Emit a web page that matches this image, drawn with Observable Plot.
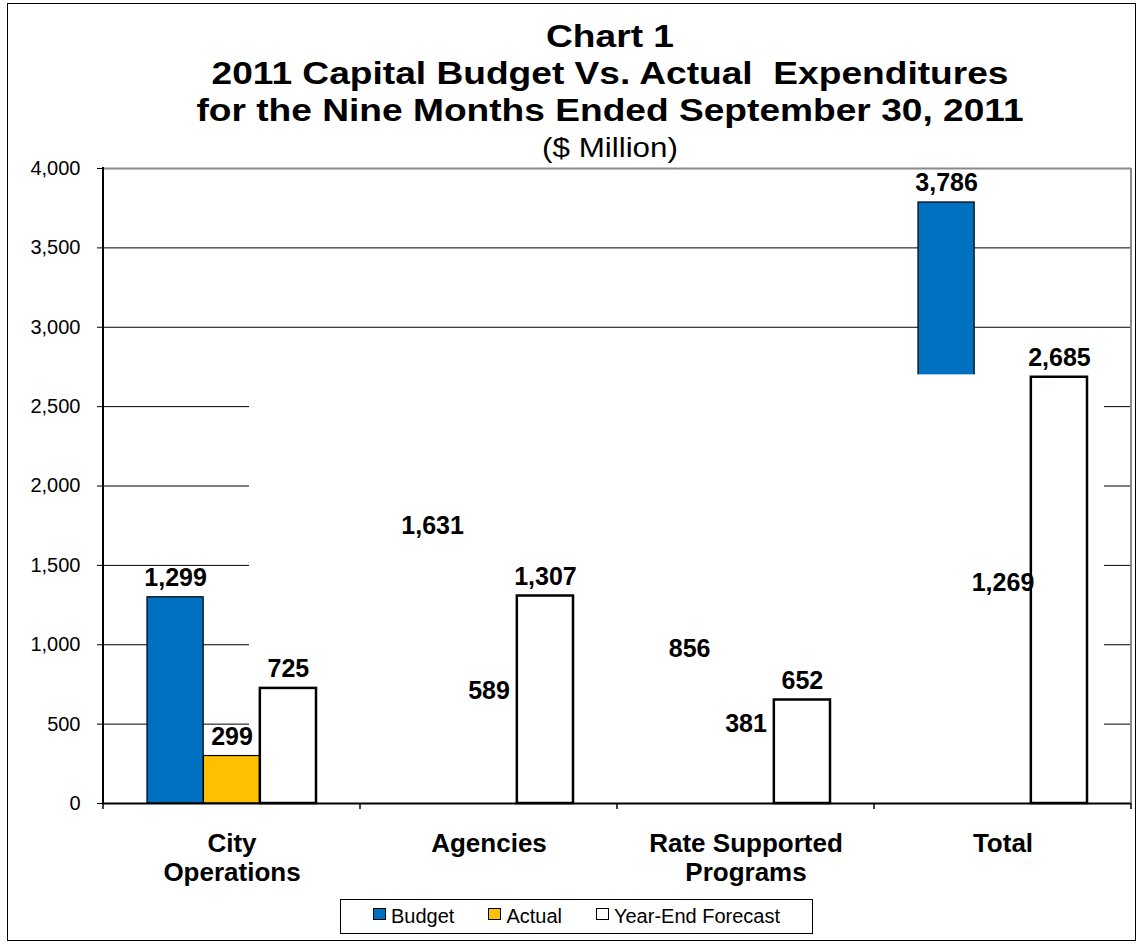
<!DOCTYPE html>
<html>
<head>
<meta charset="utf-8">
<script src="https://cdn.jsdelivr.net/npm/d3@7"></script>
<script src="https://cdn.jsdelivr.net/npm/@observablehq/plot@0.6"></script>
<style>
  html, body { margin: 0; padding: 0; background: white; }
  body { width: 1139px; height: 946px; position: relative; overflow: hidden; font-family: "Liberation Sans", Arial, sans-serif; color: black; }
  #border { position: absolute; left: 7px; top: 3px; width: 1129px; height: 938px; border: 1px solid black; box-sizing: border-box; }
  #title { position: absolute; left: 110px; width: 1000px; top: 18px; text-align: center; white-space: pre; z-index: 2; }
  #title .t { font-weight: bold; font-size: 32px; line-height: 37px; transform: scaleX(1.16); }
  #title .s { font-size: 28px; line-height: 37px; transform: scaleX(1.12); }
  #chart { position: absolute; left: 0; top: 150px; z-index: 1; }
  #chart svg { background: transparent !important; }
  #legend { position: absolute; left: 340px; top: 899px; width: 473px; height: 35px; border: 1px solid black; box-sizing: border-box; display: flex; align-items: center; justify-content: center; gap: 34px; font-size: 20px; background: white; z-index: 2; }
  #legend .item { display: flex; align-items: center; }
  #legend .sw { width: 11px; height: 10px; border: 1px solid black; margin-right: 5px; margin-top: -5px; }
</style>
</head>
<body>
<div id="border"></div>
<div id="title"></div>
<div id="chart"></div>
<div id="legend"></div>
<script>
// ---- data ----
const categories = ["City Operations", "Agencies", "Rate Supported Programs", "Total"];
const categoryLabels = ["City\nOperations", "Agencies", "Rate Supported\nPrograms", "Total"];
const seriesNames = ["Budget", "Actual", "Year-End Forecast"];
const seriesColors = ["#0070C0", "#FFC000", "#FFFFFF"];
const budget = [1299, 1631, 856, 3786];
const actual = [299, 589, 381, 1269];
const forecast = [725, 1307, 652, 2685];
const yTicks = [0, 500, 1000, 1500, 2000, 2500, 3000, 3500, 4000];
const blankedBelow = 2700; // level below which the source picture is blank between the first and last group
const titleLines = ["Chart 1", "2011 Capital Budget Vs. Actual  Expenditures", "for the Nine Months Ended September 30, 2011"];
const subtitle = "($ Million)";

// ---- title ----
const titleEl = document.getElementById("title");
titleLines.forEach(t => { const d = document.createElement("div"); d.className = "t"; d.textContent = t; titleEl.appendChild(d); });
{ const d = document.createElement("div"); d.className = "s"; d.textContent = subtitle; titleEl.appendChild(d); }

// ---- rows ----
const rows = categories.flatMap((c, i) => [
  {category: c, series: seriesNames[0], value: budget[i]},
  {category: c, series: seriesNames[1], value: actual[i]},
  {category: c, series: seriesNames[2], value: forecast[i]}
]);

// ---- layout ----
const W = 1139, H = 750, mL = 102, mR = 8, mT = 18, mB = 97;
const band = (W - mL - mR) / categories.length;
const outer = 44;
const barW = (band - 2 * outer) / 3;
const insets = seriesNames.map((s, k) => ({insetLeft: outer + k * barW, insetRight: band - outer - (k + 1) * barW}));
const offsets = seriesNames.map((s, k) => (outer + (k + 0.5) * barW) - band / 2);
const color = s => seriesColors[seriesNames.indexOf(s)];
const fmt = d3.format(",");
const first = categories[0];

function bars(data, k, extra) {
  return Plot.barY(data, {
    x: "category", y: "value", fill: d => color(d.series),
    stroke: "black", strokeWidth: k === 2 ? 2.5 : 1.2,
    ...insets[k], ...extra
  });
}
const bySeries = k => rows.filter(d => d.series === seriesNames[k]);

const marks = [
  Plot.ruleY(yTicks.filter(t => t > 0 && t < 4000), {stroke: "black", strokeWidth: 1}),
  Plot.ruleY([4000], {stroke: "#8a8a8a", strokeWidth: 2}),
  // budget & actual bars of the groups that lie in the blank area
  bars(bySeries(0).filter(d => d.category !== first), 0),
  bars(bySeries(1).filter(d => d.category !== first), 1),
  // blank area
  Plot.barY([first], {x: d => d, y: () => blankedBelow, fill: "white", insetLeft: 146, insetRight: -1}),
  Plot.barY(categories.slice(1, 3), {x: d => d, y: () => blankedBelow, fill: "white", insetLeft: -1, insetRight: -1}),
  Plot.barY([categories[3]], {x: d => d, y: () => blankedBelow, fill: "white", insetLeft: -1, insetRight: 27}),
  // first group's bars
  bars(bySeries(0).filter(d => d.category === first), 0),
  bars(bySeries(1).filter(d => d.category === first), 1),
  // forecast bars
  bars(bySeries(2), 2),
  Plot.ruleY([0], {stroke: "black", strokeWidth: 2}),
  Plot.axisY({ticks: yTicks, tickFormat: fmt, tickSize: 5, tickPadding: 17, fontSize: 20, stroke: "black", label: null}),
  // value labels
  ...seriesNames.map((s, k) => Plot.text(bySeries(k), {
    x: "category", y: "value", text: d => fmt(d.value), dx: offsets[k], dy: -11,
    lineAnchor: "bottom", fontSize: 25, fontWeight: "bold", fill: "black"
  })),
  // category labels
  Plot.text(categories, {
    x: d => d, text: (d, i) => categoryLabels[i], frameAnchor: "bottom", lineAnchor: "top",
    dy: 28, fontSize: 26, fontWeight: "bold", lineHeight: 1.12, fill: "black"
  })
];

const plot = Plot.plot({
  width: W, height: H,
  marginLeft: mL, marginRight: mR, marginTop: mT, marginBottom: mB,
  style: {fontFamily: "'Liberation Sans', Arial, sans-serif", fontSize: "20px", color: "black", background: "transparent"},
  x: {domain: categories, padding: 0, axis: null},
  y: {domain: [0, 4000], axis: null},
  marks
});
document.getElementById("chart").appendChild(plot);

// ---- frame lines & group boundary ticks through the scales ----
const xs = plot.scale("x"), ys = plot.scale("y");
const svg = d3.select(plot);
const yTop = ys.apply(4000), yBot = ys.apply(0);
const xLeft = xs.apply(categories[0]), xRight = xs.apply(categories[categories.length - 1]) + xs.bandwidth;
const g = svg.append("g");
g.append("line").attr("x1", xRight).attr("x2", xRight).attr("y1", yTop).attr("y2", yBot).attr("stroke", "#8a8a8a").attr("stroke-width", 2);
g.append("line").attr("x1", xLeft).attr("x2", xLeft).attr("y1", yTop - 1).attr("y2", yBot + 1).attr("stroke", "black").attr("stroke-width", 2);
[...categories.map(c => xs.apply(c)), xRight].forEach(x => {
  g.append("line").attr("x1", x).attr("x2", x).attr("y1", yBot).attr("y2", yBot + 6).attr("stroke", "black").attr("stroke-width", 1.5);
});

// ---- legend ----
const lg = document.getElementById("legend");
seriesNames.forEach((s, k) => {
  const it = document.createElement("div"); it.className = "item";
  const sw = document.createElement("div"); sw.className = "sw"; sw.style.background = seriesColors[k];
  const tx = document.createElement("span"); tx.textContent = s;
  it.appendChild(sw); it.appendChild(tx); lg.appendChild(it);
});
</script>
</body>
</html>
